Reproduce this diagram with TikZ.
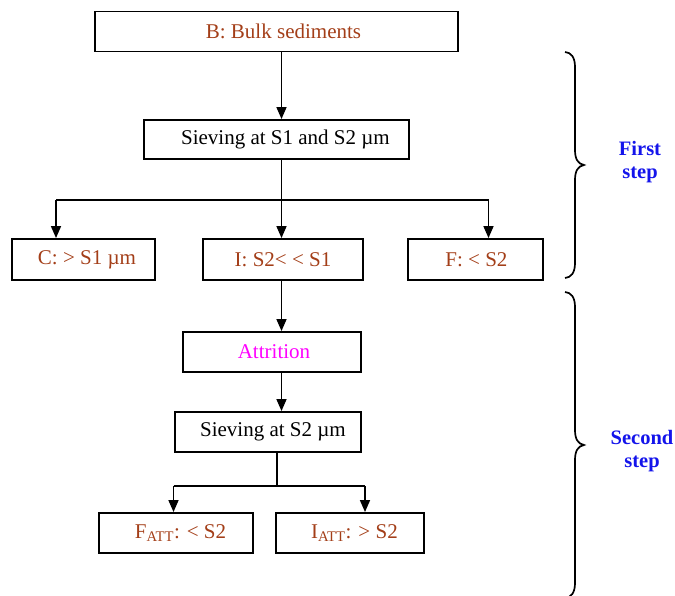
\documentclass[tikz,border=0pt]{standalone}
\usepackage{fontspec}
\setmainfont{Liberation Serif}
\usetikzlibrary{arrows.meta}
\definecolor{brn}{RGB}{163,62,24}
\definecolor{mag}{RGB}{255,0,255}
\definecolor{stepblue}{RGB}{20,20,235}
\begin{document}
\begin{tikzpicture}[x=1pt,y=-1pt,
  box/.style={draw=black,line width=1.9pt,inner sep=0pt,minimum height=40pt,
    font=\fontsize{21}{25}\selectfont},
  ln/.style={line width=1.6pt},
  arr/.style={line width=1.6pt,-{Triangle[length=12pt,width=10pt]}},
  brc/.style={line width=1.7pt},
  steplabel/.style={text=stepblue,align=center,font=\fontsize{20.5}{23}\selectfont\bfseries}]
\useasboundingbox (0,0) rectangle (675,596);
% boxes
\node[box,minimum width=363pt,text=brn] (B) at (276.5,31.5) {\hspace{14pt}B: Bulk sediments};
\node[box,minimum width=265pt,minimum height=39pt] (S1) at (276.5,139.5) {\hspace{18pt}Sieving at S1 and S2 µm};
\node[box,minimum width=143pt,minimum height=41pt,text=brn] (C) at (83.5,259.5) {\hspace{7pt}C: > S1 µm};
\node[box,minimum width=160pt,minimum height=41pt,text=brn] (I) at (283,259.5) {I: S2< < S1};
\node[box,minimum width=135pt,minimum height=41pt,text=brn] (F) at (475.5,259.5) {\hspace{2pt}F: < S2};
\node[box,minimum width=178pt,text=mag] (Att) at (272,352) {\hspace{4pt}Attrition};
\node[box,minimum width=186pt] (S2) at (268,432) {\hspace{10pt}Sieving at S2 µm};
\node[box,minimum width=154pt,text=brn] (FA) at (176,533) {\hspace{9pt}F\textsubscript{ATT}: < S2};
\node[box,minimum width=148pt,text=brn] (IA) at (350,533) {\hspace{9pt}I\textsubscript{ATT}: > S2};
% junction coordinates
\coordinate (j1) at (281.5,200);
\coordinate (jl) at (56,200);
\coordinate (jr) at (488.5,200);
\coordinate (j2) at (277,486);
\coordinate (jl2) at (173.5,486);
\coordinate (jr2) at (365,486);
% connectors
\draw[arr] (B.south -| j1) -- (S1.north -| j1);
\draw[ln] (S1.south -| j1) -- (j1);
\draw[ln] (jl) -- (jr);
\draw[arr] (jl) -- (C.north -| jl);
\draw[arr] (j1) -- (I.north -| j1);
\draw[arr] (jr) -- (F.north -| jr);
\draw[arr] (I.south -| j1) -- (Att.north -| j1);
\draw[arr] (Att.south -| j1) -- (S2.north -| j1);
\draw[ln] (S2.south -| j2) -- (j2);
\draw[ln] (jl2) -- (jr2);
\draw[arr] (jl2) -- (FA.north -| jl2);
\draw[arr] (jr2) -- (IA.north -| jr2);
% braces
\draw[brc] (565,52) .. controls (571,52.5) and (575,57) .. (575,67) -- (575,150)
  .. controls (575,159) and (578,164) .. (584,165)
  .. controls (578,166) and (575,171) .. (575,180) -- (575,263)
  .. controls (575,273) and (571,277.5) .. (565,278);
\draw[brc] (565,292) .. controls (571,292.5) and (575,297) .. (575,307) -- (575,430)
  .. controls (575,439) and (578,444) .. (584,445)
  .. controls (578,446) and (575,451) .. (575,460) -- (575,583)
  .. controls (575,593) and (571,597.5) .. (565,598);
\node[steplabel] (first) at (640,162) {First\\step};
\node[steplabel] (second) at (642,451) {Second\\step};
\end{tikzpicture}
\end{document}
